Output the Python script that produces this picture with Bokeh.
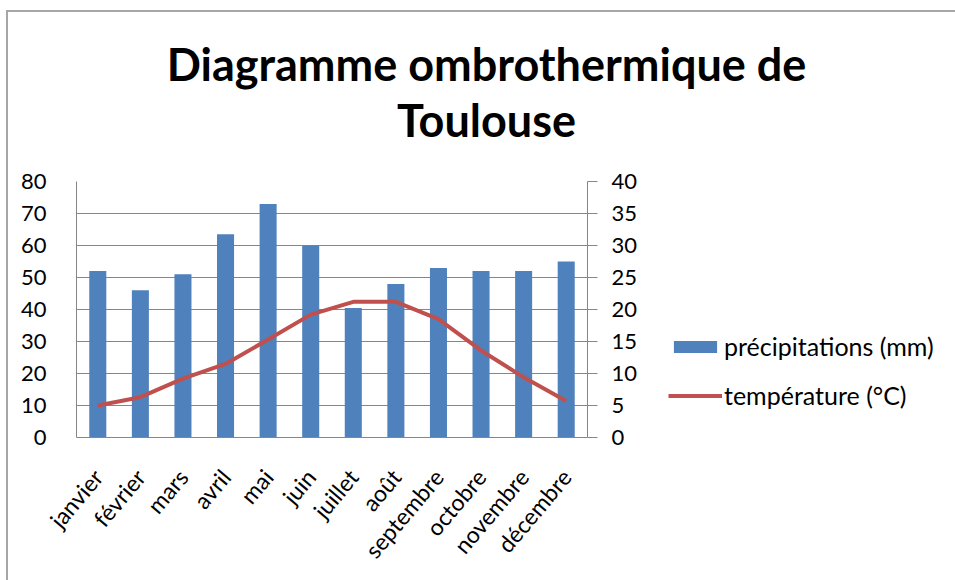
import math
from bokeh.plotting import figure
from bokeh.layouts import row, column
from bokeh.models import (Range1d, LinearAxis, FactorRange, Legend, LegendItem,
                          Label, FixedTicker, ColumnDataSource)
from bokeh.embed import file_html
from bokeh.resources import INLINE

months = ["janvier", "février", "mars", "avril", "mai", "juin", "juillet",
          "août", "septembre", "octobre", "novembre", "décembre"]
precip_mm = [52, 46, 51, 63.5, 73, 60, 40.5, 48, 53, 52, 52, 55]
temp_c = [5.0, 6.3, 9.2, 11.5, 15.3, 19.2, 21.2, 21.2, 18.5, 13.6, 9.4, 5.7]
left_ticks = [0, 10, 20, 30, 40, 50, 60, 70, 80]
right_ticks = [0, 5, 10, 15, 20, 25, 30, 35, 40]
legend_labels = ["précipitations (mm)", "température (°C)"]
title_lines = ["Diagramme ombrothermique de", "Toulouse"]

FONT = "Lato"
BAR = "#4F81BD"
LINE = "#C0504D"
GRID = "#868686"

src = ColumnDataSource(dict(month=months, precip=precip_mm, temp=temp_c))

TOTAL_W = 947
TITLE_H = 149
H = 419

# ---- title strip ----
tf = figure(width=TOTAL_W, height=TITLE_H, x_range=Range1d(0, TOTAL_W),
            y_range=Range1d(TITLE_H, 0), output_backend="svg",
            toolbar_location=None, title_location=None,
            x_axis_location=None, y_axis_location=None,
            min_border_left=0, min_border_right=0,
            min_border_top=0, min_border_bottom=0)
tf.outline_line_color = None
tf.grid.grid_line_color = None
tf.background_fill_color = "white"
tf.border_fill_color = "white"
for txt, base in zip(title_lines, [51, 107]):
    tf.add_layout(Label(x=478, y=base, text=txt, text_align="center",
                        text_baseline="alphabetic", text_font=FONT,
                        text_font_style="bold", text_font_size="45px",
                        text_color="black"))

# ---- main chart ----
p = figure(width=632, height=H,
           x_range=FactorRange(*months, range_padding=0),
           y_range=Range1d(0, 80),
           output_backend="svg", toolbar_location=None,
           title_location=None,
           min_border_left=68, min_border_right=53,
           min_border_top=20, min_border_bottom=143)
p.extra_y_ranges = {"temp": Range1d(0, 40)}
p.outline_line_color = None
p.background_fill_color = "white"
p.border_fill_color = "white"

bars = p.vbar(x="month", top="precip", width=0.4, source=src,
              fill_color=BAR, line_color=None)
ln = p.line(x="month", y="temp", source=src, y_range_name="temp",
            line_width=4, line_color=LINE)

p.xgrid.grid_line_color = None
p.ygrid.grid_line_color = GRID
p.ygrid.grid_line_width = 1
p.ygrid.ticker = FixedTicker(ticks=left_ticks)

ya = p.yaxis[0]
ya.ticker = FixedTicker(ticks=left_ticks)
ya.major_tick_line_color = None
ya.minor_tick_line_color = None
ya.axis_line_color = GRID
ya.major_label_text_font = FONT
ya.major_label_text_font_size = "22px"
ya.major_label_text_color = "black"
ya.major_label_standoff = 24

ra = LinearAxis(y_range_name="temp", ticker=FixedTicker(ticks=right_ticks))
ra.major_tick_line_color = GRID
ra.major_tick_out = 10
ra.major_tick_in = 0
ra.minor_tick_line_color = None
ra.axis_line_color = GRID
ra.major_label_text_font = FONT
ra.major_label_text_font_size = "22px"
ra.major_label_text_color = "black"
ra.major_label_standoff = 14
p.add_layout(ra, "right")

xa = p.xaxis[0]
xa.major_tick_line_color = None
xa.minor_tick_line_color = None
xa.axis_line_color = GRID
xa.major_label_orientation = 0.87
xa.major_label_text_font = FONT
xa.major_label_text_font_size = "23px"
xa.major_label_text_color = "black"
xa.major_label_standoff = 29

# ---- legend panel: same renderers' styles, hidden glyphs so only the legend shows ----
lg = figure(width=TOTAL_W - 632, height=H,
            x_range=FactorRange(*months), y_range=Range1d(1000, 1001),
            output_backend="svg", toolbar_location=None, title_location=None,
            x_axis_location=None, y_axis_location=None,
            min_border_left=0, min_border_right=0,
            min_border_top=0, min_border_bottom=0)
lg.outline_line_color = None
lg.grid.grid_line_color = None
lg.background_fill_color = "white"
lg.border_fill_color = "white"
lb = lg.vbar(x="month", top="precip", width=0.4, source=src,
             fill_color=BAR, line_color=None)
ll = lg.line(x="month", y="temp", source=src, line_width=4, line_color=LINE)
lb.visible = False
ll.visible = False
legend = Legend(items=[LegendItem(label=legend_labels[0], renderers=[lb]),
                       LegendItem(label=legend_labels[1], renderers=[ll])],
                location=(28, 27), orientation="vertical",
                glyph_width=54, glyph_height=15, label_height=20,
                label_standoff=2, spacing=19, padding=0, margin=0,
                border_line_color=None, background_fill_alpha=0,
                label_text_font=FONT, label_text_font_size="25px",
                label_text_color="black")
lg.add_layout(legend, "center")

layout = column(tf, row(p, lg, spacing=0), spacing=0)
layout.styles = {"border-left": "2px solid #a6a6a6", "border-top": "2px solid #a6a6a6",
                 "margin-left": "6px", "margin-top": "10px"}

open("out.html", "w").write(file_html(layout, INLINE))
